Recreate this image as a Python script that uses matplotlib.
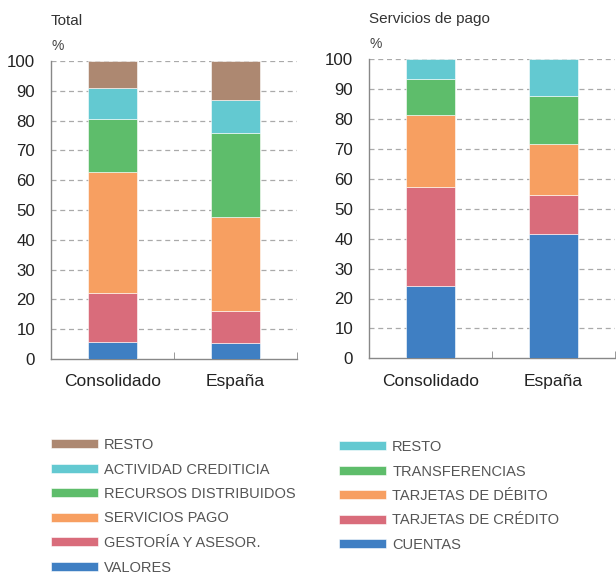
import numpy as np
import matplotlib.pyplot as plt
from matplotlib import font_manager

plt.rcParams['font.family'] = ['Liberation Sans', 'DejaVu Sans']

groups = ["Consolidado", "España"]

# Total (bottom to top)
total_labels = ["VALORES", "GESTORÍA Y ASESOR.", "SERVICIOS PAGO",
                "RECURSOS DISTRIBUIDOS", "ACTIVIDAD CREDITICIA", "RESTO"]
total_consolidado = [5.6, 16.7, 40.6, 17.7, 10.2, 9.2]
total_espana = [5.5, 10.7, 31.5, 28.0, 11.3, 13.0]

# Servicios de pago (bottom to top)
pago_labels = ["CUENTAS", "TARJETAS DE CRÉDITO", "TARJETAS DE DÉBITO",
               "TRANSFERENCIAS", "RESTO"]
pago_consolidado = [24.3, 33.1, 24.0, 12.1, 6.5]
pago_espana = [41.7, 13.0, 17.0, 15.9, 12.4]

blue = "#3F7FC3"
pink = "#D96C7B"
orange = "#F79F61"
green = "#5EBD6B"
cyan = "#63C9D1"
brown = "#AD8871"
total_colors = [blue, pink, orange, green, cyan, brown]
pago_colors = [blue, pink, orange, green, cyan]

# narrow font for legend if there is one
names = set(f.name for f in font_manager.fontManager.ttflist)
print([n for n in names if "Narrow" in n or "Condensed" in n])
narrow = [n for n in ["Liberation Sans Narrow", "DejaVu Sans Condensed"] if n in names]

W, H = 616, 572
fig = plt.figure(figsize=(W / 100, H / 100), dpi=100)

def stacked(ax, labels, s1, s2, colors, title):
    x = np.arange(len(groups))
    bottom = np.zeros(len(groups))
    handles = []
    for ii in range(len(labels)):
        vals = np.array([s1[ii], s2[ii]])
        b = ax.bar(x, vals, bottom=bottom, width=0.4, color=colors[ii],
                   edgecolor="white", linewidth=0.4, label=labels[ii], zorder=3)
        handles.append(b)
        bottom += vals
    # end for
    ax.set_xlim(-0.5, 1.5)
    ax.set_ylim(0, 100)
    ax.set_yticks(np.arange(0, 101, 10))
    ax.set_xticks(x)
    ax.set_xticklabels(groups, fontsize=12.5, color="#222222")
    ax.set_xticks([0.5, 1.5], minor=True)
    ax.tick_params(axis="x", which="major", length=0, pad=11)
    ax.tick_params(axis="x", which="minor", direction="in", length=5, color="#888888")
    ax.tick_params(axis="y", length=0, labelsize=12.2, labelcolor="#222222", pad=11.5)
    for yy in range(10, 101, 10):
        ax.axhline(yy, color="#AAAAAA", linestyle=(0, (4, 3)), linewidth=0.9, zorder=1)
    # end for
    for side in ["top", "right"]:
        ax.spines[side].set_visible(False)
    for side in ["left", "bottom"]:
        ax.spines[side].set_color("#888888")
        ax.spines[side].set_linewidth(1.0)
    ax.text(0, 1.135, title, transform=ax.transAxes, fontsize=11,
            color="#333333", va="center", ha="left")
    ax.text(0, 1.05, "%", transform=ax.transAxes, fontsize=10,
            color="#444444", va="center", ha="left")
    return handles

ax1 = fig.add_axes([51 / W, 213 / H, 246 / W, 298 / H])
h1 = stacked(ax1, total_labels, total_consolidado, total_espana, total_colors, "Total")

ax2 = fig.add_axes([369 / W, 213.7 / H, 246 / W, 299 / H])
h2 = stacked(ax2, pago_labels, pago_consolidado, pago_espana, pago_colors, "Servicios de pago")

leg_font = {"family": narrow + ["Liberation Sans", "DejaVu Sans"], "size": 10.5,
            "stretch": "condensed"}

fig.legend(h1[::-1], total_labels[::-1], loc="upper left",
           bbox_to_anchor=(51 / W, 1 - 438 / H), frameon=False, prop=leg_font,
           handlelength=3.2, handleheight=0.55, handletextpad=0.45,
           labelspacing=0.72, borderpad=0, borderaxespad=0, labelcolor="#555555")
fig.legend(h2[::-1], pago_labels[::-1], loc="upper left",
           bbox_to_anchor=(339 / W, 1 - 440 / H), frameon=False, prop=leg_font,
           handlelength=3.2, handleheight=0.55, handletextpad=0.45,
           labelspacing=0.72, borderpad=0, borderaxespad=0, labelcolor="#555555")

fig.savefig("out.png", dpi=100)
